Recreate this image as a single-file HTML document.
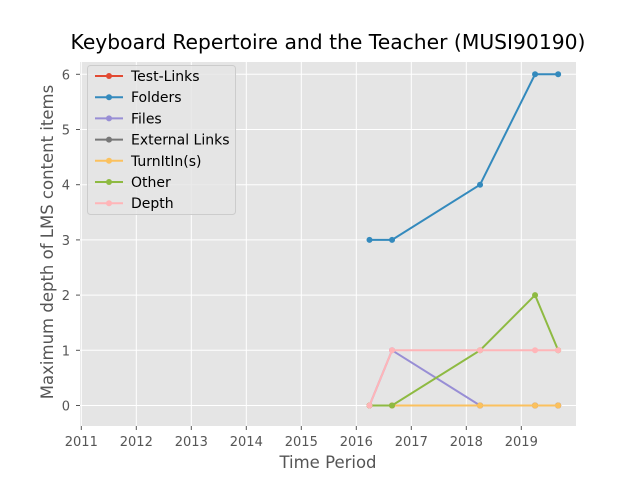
<!DOCTYPE html>
<html><head><meta charset="utf-8"><style>
body{margin:0;background:#fff;font-family:"DejaVu Sans","Liberation Sans",sans-serif}
</style></head><body>
<svg id="chart" width="640" height="480" xmlns="http://www.w3.org/2000/svg" font-family="DejaVu Sans, Liberation Sans, sans-serif">
<rect width="640" height="480" fill="#fff"/>
<text x="328" y="49" font-size="20.3" text-anchor="middle" fill="#000">Keyboard Repertoire and the Teacher (MUSI90190)</text>
<rect x="80" y="62" width="496" height="364" fill="#e5e5e5"/>
<g id="grid"></g><g id="ticks"></g><g id="series"></g>
<text x="328" y="468" font-size="16.5" text-anchor="middle" fill="#555">Time Period</text>
<text transform="translate(53,242) rotate(-90)" font-size="16.5" text-anchor="middle" fill="#555">Maximum depth of LMS content items</text>
<g id="legend"></g>
</svg>
<script>
const xTicks=[2011,2012,2013,2014,2015,2016,2017,2018,2019];
const yTicks=[0,1,2,3,4,5,6];
const times=[2016.24,2016.65,2018.25,2019.25,2019.67];
const seriesNames=["Test-Links","Folders","Files","External Links","TurnItIn(s)","Other","Depth"];
const seriesColors=["#E24A33","#348ABD","#988ED5","#777777","#FBC15E","#8EBA42","#FFB5B8"];
const testLinks=[0,0,0,0,0];
const folders=[3,3,4,6,6];
const files=[0,1,0,0,0];
const externalLinks=[0,0,0,0,0];
const turnItIn=[0,0,0,0,0];
const other=[0,0,1,2,1];
const depth=[0,1,1,1,1];
const seriesValues=[testLinks,folders,files,externalLinks,turnItIn,other,depth];
const NS="http://www.w3.org/2000/svg";
const X=v=>81.3+(v-2011)*55;
const Y=v=>405.5-v*55.2;
function mk(tag,attrs,parent){const e=document.createElementNS(NS,tag);for(const k in attrs)e.setAttribute(k,attrs[k]);parent.appendChild(e);return e;}
const grid=document.getElementById('grid'),ticks=document.getElementById('ticks'),ser=document.getElementById('series'),leg=document.getElementById('legend');
xTicks.forEach(t=>{const x=X(t);
 let g=mk('line',{x1:x,x2:x,y1:62,y2:426,stroke:'#fff','stroke-width':1},grid);
 
 let tk=mk('line',{x1:x,x2:x,y1:426,y2:430,stroke:'#555'},ticks);
 
 let tx=mk('text',{x:x,y:446,'font-size':13,'text-anchor':'middle',fill:'#555'},ticks);tx.textContent=t;
 });
yTicks.forEach(t=>{const y=Y(t);
 let g=mk('line',{x1:80,x2:576,y1:y,y2:y,stroke:'#fff','stroke-width':1},grid);
 
 let tk=mk('line',{x1:76,x2:80,y1:y,y2:y,stroke:'#555'},ticks);
 
 let tx=mk('text',{x:70,y:y+5,'font-size':13,'text-anchor':'end',fill:'#555'},ticks);tx.textContent=t;
 });
seriesValues.forEach((vals,i)=>{const c=seriesColors[i];
 const g=mk('g',{},ser);
 
 
 const pl=mk('polyline',{points:vals.map((v,j)=>X(times[j])+','+Y(v)).join(' '),fill:'none',stroke:c,'stroke-width':2},g);
 
 vals.forEach((v,j)=>{const p=mk('circle',{cx:X(times[j]),cy:Y(v),r:3,fill:c},g);
  });});
const lb=mk('rect',{x:87.5,y:65.5,width:148,height:149,rx:3,fill:'#e5e5e5',stroke:'#ccc','fill-opacity':0.8},leg);

seriesNames.forEach((n,i)=>{const y=76+i*21.2;const c=seriesColors[i];
 const g=mk('g',{},leg);
 
 mk('line',{x1:95,x2:123,y1:y,y2:y,stroke:c,'stroke-width':2},g);
 mk('circle',{cx:109,cy:y,r:3,fill:c},g);
 const t=mk('text',{x:131,y:y+5,'font-size':14,fill:'#000'},g);t.textContent=n;});
</script>
</body></html>
